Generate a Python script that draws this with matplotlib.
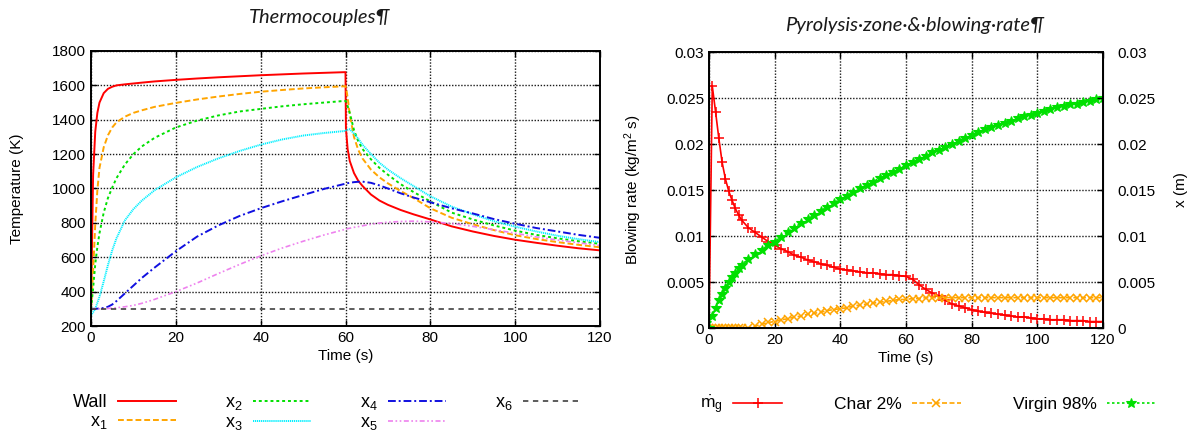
import numpy as np
import matplotlib
matplotlib.use('Agg')
import matplotlib.pyplot as plt
from matplotlib.ticker import FuncFormatter

plt.rcParams['font.family'] = ['Liberation Sans', 'DejaVu Sans']
plt.rcParams['mathtext.default'] = 'regular'

# ---- Thermocouples data ----
t_tc = [0, 0.5, 1, 1.5, 2, 3, 4, 5, 6, 8, 10, 12, 15, 20, 25, 30, 35, 40, 45, 50, 55, 60,
        60.1, 60.5, 61, 62, 63, 64, 66, 68, 70, 73, 76, 80, 85, 90, 95, 100, 105, 110, 115, 120]
T_wall = [300, 1080, 1330, 1440, 1500, 1555, 1580, 1592, 1600, 1606, 1611, 1616, 1623, 1632, 1640,
          1647, 1653, 1659, 1664, 1669, 1673, 1677,
          1350, 1230, 1160, 1090, 1045, 1015, 965, 930, 905, 875, 850, 820, 780, 750, 724, 702, 684,
          667, 652, 640]
T_x1 = [300, 520, 790, 990, 1120, 1240, 1310, 1355, 1385, 1418, 1440, 1455, 1475, 1498, 1518,
        1535, 1550, 1563, 1573, 1582, 1589, 1595,
        1590, 1530, 1430, 1300, 1225, 1175, 1110, 1065, 1030, 985, 945, 885, 830, 792, 758, 728,
        706, 688, 672, 658]
T_x2 = [300, 420, 560, 660, 740, 860, 945, 1005, 1060, 1140, 1200, 1245, 1295, 1355, 1395,
        1425, 1448, 1463, 1478, 1490, 1500, 1510,
        1505, 1480, 1440, 1340, 1275, 1230, 1170, 1120, 1080, 1025, 980, 925, 860, 820, 785, 755,
        730, 710, 693, 678]
T_x3 = [260, 280, 300, 335, 370, 460, 555, 640, 710, 815, 880, 930, 990, 1065, 1125,
        1175, 1218, 1255, 1285, 1308, 1323, 1335,
        1338, 1342, 1345, 1320, 1290, 1255, 1200, 1150, 1110, 1060, 1015, 955, 895, 850, 810, 778,
        750, 725, 705, 688]
T_x4 = [300, 300, 300, 301, 302, 305, 312, 325, 345, 390, 435, 480, 540, 635, 720,
        785, 840, 885, 925, 962, 998, 1028,
        1029, 1031, 1033, 1037, 1039, 1040, 1033, 1018, 1000, 972, 948, 920, 885, 855, 822, 795,
        770, 750, 730, 713]
T_x5 = [300, 300, 300, 300, 300, 301, 302, 304, 306, 312, 320, 332, 355, 400, 450,
        505, 558, 608, 653, 693, 730, 763,
        764, 766, 769, 774, 778, 783, 792, 799, 804, 808, 810, 806, 797, 780, 760, 740,
        718, 700, 684, 668]
t_x6 = [0, 120]
T_x6 = [298, 298]

# ---- Pyrolysis zone & blowing rate data ----
t_py = [0, 1, 2, 3, 4, 5, 6, 7, 8, 9, 10] + list(range(12, 121, 2))
mdot = [0.0000, 0.0263, 0.0235, 0.0206, 0.0180, 0.0162, 0.0149, 0.0139, 0.0130, 0.0123, 0.0117,
        0.0109, 0.0104, 0.0099, 0.0094, 0.0090, 0.0086, 0.0083, 0.0079, 0.0077, 0.0074,
        0.0072, 0.0070, 0.0068, 0.0066, 0.0064, 0.0063, 0.0062, 0.0061, 0.0060, 0.0060,
        0.0059, 0.0058, 0.0058, 0.0057, 0.0056, 0.0053, 0.0047, 0.0042, 0.0038, 0.0035,
        0.0030, 0.0026, 0.0024, 0.0022, 0.0020, 0.0018, 0.0017, 0.0016, 0.0015, 0.0014,
        0.0013, 0.0012, 0.0012, 0.0011, 0.0010, 0.0010, 0.0009, 0.0009, 0.0009, 0.0008,
        0.0008, 0.0008, 0.0007, 0.0007, 0.0007]
x_char = [0, 0, 0, 0, 0, 0, 0, 0, 0, 0, 0,
          0.0000, 0.0002, 0.0004, 0.0006, 0.0007, 0.0009, 0.0010, 0.0012, 0.0013, 0.0015,
          0.0016, 0.0017, 0.0019, 0.0020, 0.0021, 0.0022, 0.0024, 0.0025, 0.0026, 0.0027,
          0.0028, 0.0029, 0.0030, 0.0031, 0.0031, 0.0032, 0.0032, 0.0033, 0.0033, 0.0033,
          0.0033, 0.0033, 0.0033, 0.0033, 0.0033, 0.0033, 0.0033, 0.0033, 0.0033, 0.0033,
          0.0033, 0.0033, 0.0033, 0.0033, 0.0033, 0.0033, 0.0033, 0.0033, 0.0033, 0.0033,
          0.0033, 0.0033, 0.0033, 0.0033, 0.0033]
x_virgin = [0.0000, 0.0013, 0.0022, 0.0030, 0.0037, 0.0044, 0.0050, 0.0055, 0.0060, 0.0065, 0.0069,
            0.0075, 0.0080, 0.0085, 0.0090, 0.0094, 0.0099, 0.0104, 0.0109, 0.0114, 0.0118,
            0.0123, 0.0127, 0.0132, 0.0136, 0.0140, 0.0144, 0.0148, 0.0152, 0.0155, 0.0159,
            0.0163, 0.0166, 0.0170, 0.0173, 0.0177, 0.0180, 0.0184, 0.0187, 0.0191, 0.0194,
            0.0197, 0.0200, 0.0203, 0.0207, 0.0210, 0.0213, 0.0216, 0.0218, 0.0221, 0.0223,
            0.0225, 0.0228, 0.0230, 0.0232, 0.0234, 0.0236, 0.0238, 0.0240, 0.0241, 0.0243,
            0.0244, 0.0246, 0.0247, 0.0249, 0.0250]

fig = plt.figure(figsize=(11.96, 4.36), dpi=100)
W, H = 1196, 436

def frame(x0, x1, ytop, ybot):
    return [x0 / W, (H - ybot) / H, (x1 - x0) / W, (ybot - ytop) / H]

grid_kw = dict(color='0.1', linestyle=(0, (1, 1.2)), linewidth=1.0)
tick_fs = 11

# ---- left plot ----
ax1 = fig.add_axes(frame(91, 600, 51, 326))
ax1.plot(t_tc, T_wall, color='#ff0000', lw=1.4, label='Wall')
ax1.plot(t_tc, T_x1, color='#ffa500', lw=1.4, ls=(0, (3, 1.5)), label='x$_1$')
ax1.plot(t_tc, T_x2, color='#00e000', lw=1.4, ls=(0, (1.5, 1.5)), label='x$_2$')
ax1.plot(t_tc, T_x3, color='#00f0ff', lw=1.4, ls=(0, (0.6, 0.4)), label='x$_3$')
ax1.plot(t_tc, T_x4, color='#1010e0', lw=1.4, ls=(0, (4, 1.5, 1, 1.5)), label='x$_4$')
ax1.plot(t_tc, T_x5, color='#ee82ee', lw=1.2, ls=(0, (3, 1.5, 1, 1.5, 1, 1.5)), label='x$_5$')
ax1.plot(t_x6, T_x6, color='#303030', lw=1.1, ls=(0, (3.5, 3)), label='x$_6$')
ax1.set_xlim(0, 120)
ax1.set_ylim(200, 1800)
ax1.set_xticks(np.arange(0, 121, 20))
ax1.set_yticks(np.arange(200, 1801, 200))
ax1.grid(True, **grid_kw)
ax1.tick_params(direction='in', top=True, right=True, labelsize=tick_fs, length=4, width=1)
ax1.set_xlabel('Time (s)', fontsize=tick_fs, labelpad=3)
ax1.set_ylabel('Temperature (K)', fontsize=tick_fs, labelpad=20)
for s in ax1.spines.values():
    s.set_linewidth(1.4)

# ---- right plot ----
ax2 = fig.add_axes(frame(709, 1103, 52, 328))
ax2.plot(t_py, mdot, color='#ff0000', lw=1.2, marker='+', ms=7, mew=1.1, label=r'$\dot{m}_g$')
ax2.plot(t_py, x_char, color='#ffa500', lw=1.2, ls=(0, (3, 1.5)), marker='x', ms=5.5, mew=1.1,
         label='Char 2%')
ax2.plot(t_py, x_virgin, color='#00e000', lw=1.2, ls=(0, (1.5, 1.5)), marker='*', ms=7,
         mew=0.8, label='Virgin 98%')
ax2.set_xlim(0, 120)
ax2.set_ylim(0, 0.03)
ax2.set_xticks(np.arange(0, 121, 20))
ax2.set_yticks(np.arange(0, 0.0301, 0.005))
fmt = FuncFormatter(lambda v, p: '%g' % round(v, 4))
ax2.yaxis.set_major_formatter(fmt)
ax2.grid(True, **grid_kw)
ax2.tick_params(direction='in', top=True, labelsize=tick_fs, length=4, width=1)
ax2.set_xlabel('Time (s)', fontsize=tick_fs, labelpad=3)
ax2.set_ylabel('Blowing rate (kg/m$^2$ s)', fontsize=tick_fs, labelpad=16)
for s in ax2.spines.values():
    s.set_linewidth(1.4)

ax3 = ax2.twinx()
ax3.set_ylim(0, 0.03)
ax3.set_yticks(np.arange(0, 0.0301, 0.005))
ax3.yaxis.set_major_formatter(fmt)
ax3.tick_params(direction='in', labelsize=tick_fs, length=4, width=1, pad=10)
ax3.set_ylabel('x (m)', fontsize=tick_fs, labelpad=14)

# ---- titles ----
title_kw = dict(family=['Lato', 'DejaVu Sans'], style='italic', fontsize=14.5, ha='center',
                va='center', color='#1a1a1a')
fig.text(320 / W, 1 - 18 / H, 'Thermocouples¶', **title_kw)
fig.text(915 / W, 1 - 25 / H, 'Pyrolysis·zone·&·blowing·rate¶', **title_kw)

# ---- legends ----
h1, l1 = ax1.get_legend_handles_labels()
fig.legend(h1, l1, ncol=4, loc='center', bbox_to_anchor=(327 / W, 1 - 413 / H),
           frameon=False, markerfirst=False, fontsize=13, handlelength=3.2,
           columnspacing=2.7, handletextpad=0.6, labelspacing=0.1)
h2, l2 = ax2.get_legend_handles_labels()
fig.legend(h2, l2, ncol=3, loc='center', bbox_to_anchor=(928 / W, 1 - 405 / H),
           frameon=False, markerfirst=False, fontsize=12.5, handlelength=2.8,
           columnspacing=3.0, handletextpad=0.6)

fig.savefig('out.png', dpi=100)
